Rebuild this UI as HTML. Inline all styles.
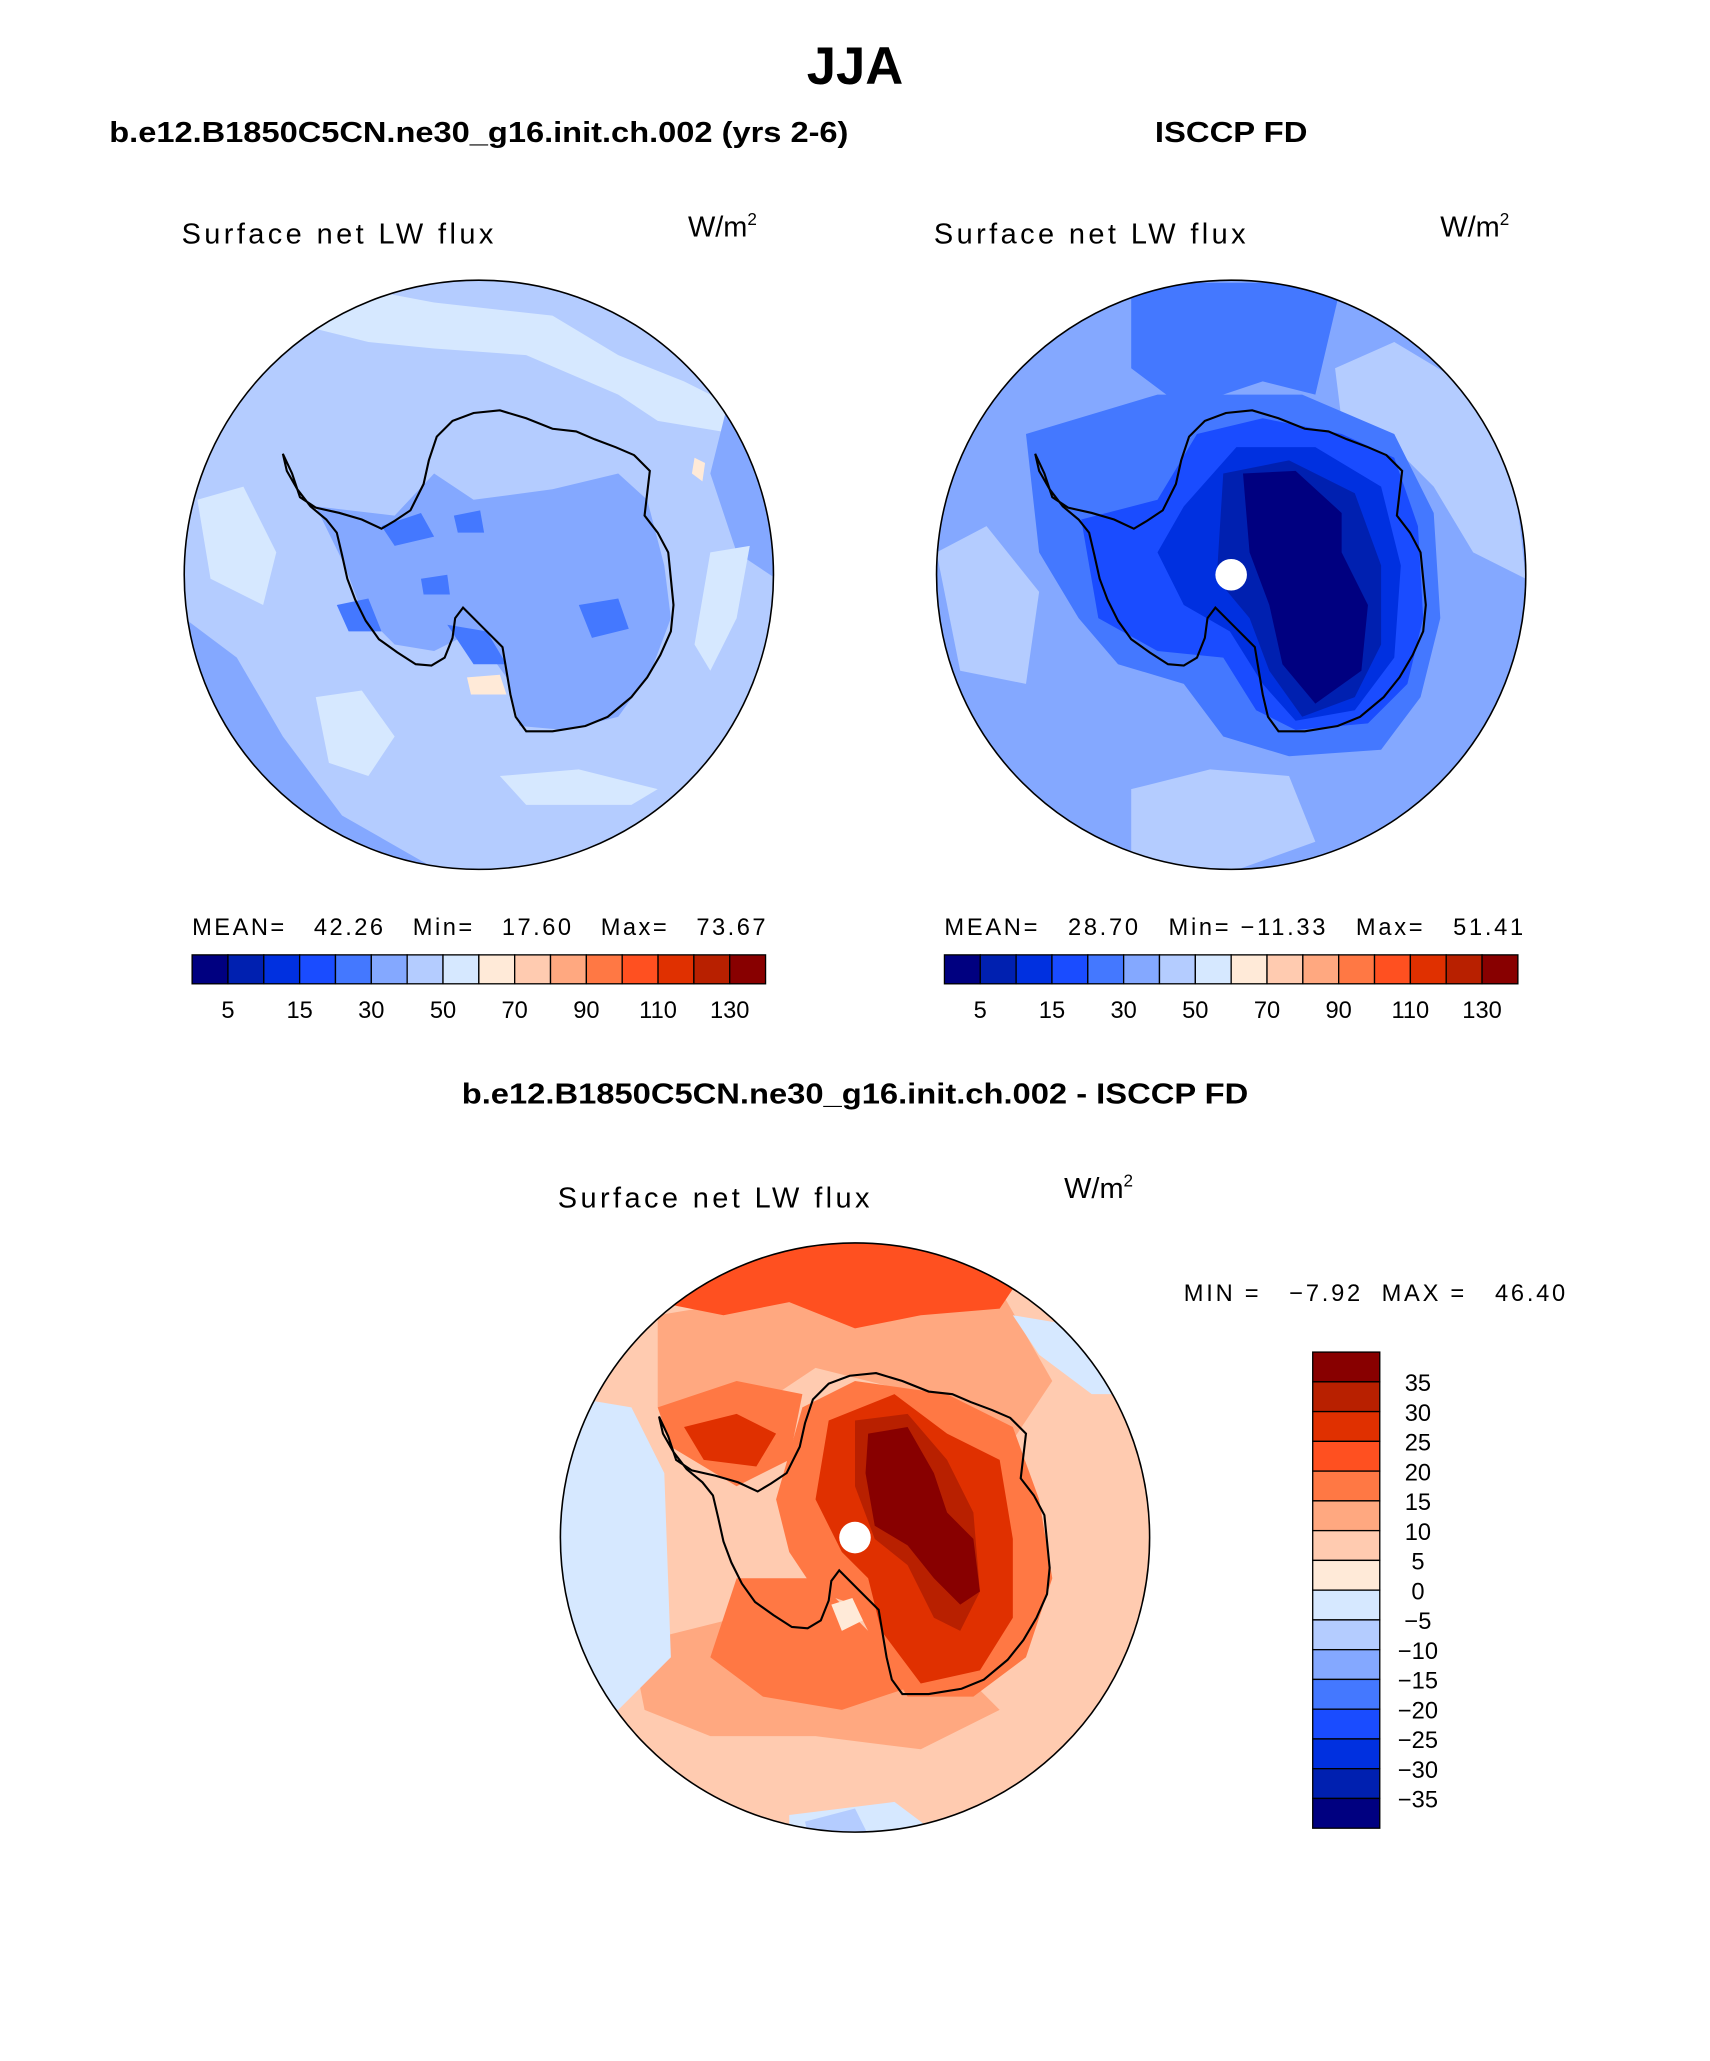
<!DOCTYPE html>
<html><head><meta charset="utf-8"><style>
html,body{margin:0;padding:0;background:#fff}
svg{display:block}
text{font-family:"Liberation Sans",sans-serif}
</style></head><body>
<svg id="fig" width="1710" height="2061" viewBox="0 0 1300 1567" xmlns="http://www.w3.org/2000/svg">
<defs>
<clipPath id="cL"><circle cx="364" cy="437" r="224"/></clipPath>
<clipPath id="cR"><circle cx="936" cy="437" r="224"/></clipPath>
<clipPath id="cB"><circle cx="650" cy="1169" r="224"/></clipPath>
<path id="ant" d="M215,345 L222,360 L228,378 L240,386 L258,390 L275,395 L290,402 L300,396 L312,388 L322,368 L326,350 L332,332 L344,320 L360,314 L380,312 L400,318 L420,326 L438,328 L452,334 L468,340 L482,346 L494,358 L492,375 L490,392 L500,405 L508,420 L510,440 L512,460 L510,480 L502,498 L492,515 L480,530 L462,545 L445,552 L420,556 L400,556 L392,545 L388,528 L385,510 L382,492 L368,478 L352,462 L346,470 L344,485 L338,500 L328,506 L316,505 L302,496 L288,486 L278,472 L270,456 L264,440 L260,422 L256,405 L248,395 L236,385 L226,372 L218,358 Z" fill="none" stroke="#000" stroke-width="1.6"/>
</defs>

<text x="650" y="64" text-anchor="middle" font-size="40" font-weight="bold">JJA</text>
<text x="83" y="108" font-size="22" font-weight="bold" textLength="562" lengthAdjust="spacingAndGlyphs">b.e12.B1850C5CN.ne30_g16.init.ch.002 (yrs 2-6)</text>
<text x="878" y="108" font-size="22" font-weight="bold" textLength="116" lengthAdjust="spacingAndGlyphs">ISCCP FD</text>
<text x="351" y="839" font-size="22" font-weight="bold" textLength="598" lengthAdjust="spacingAndGlyphs">b.e12.B1850C5CN.ne30_g16.init.ch.002 - ISCCP FD</text>

<g font-size="22">
<text x="138" y="185" textLength="237" lengthAdjust="spacing">Surface net LW flux</text>
<text x="523" y="180">W/m<tspan font-size="13" dy="-9">2</tspan></text>
<text x="710" y="185" textLength="237" lengthAdjust="spacing">Surface net LW flux</text>
<text x="1095" y="180">W/m<tspan font-size="13" dy="-9">2</tspan></text>
<text x="424" y="918" textLength="237" lengthAdjust="spacing">Surface net LW flux</text>
<text x="809" y="911">W/m<tspan font-size="13" dy="-9">2</tspan></text>
</g>

<!-- LEFT MAP -->
<g clip-path="url(#cL)">
<rect x="130" y="200" width="470" height="470" fill="#b4ccff"/>
<path d="M250,215 L330,230 L420,240 L470,270 L520,290 L560,310 L560,330 L500,320 L470,300 L400,270 L330,265 L280,260 L240,250 Z" fill="#d6e8ff"/>
<path d="M140,470 L180,500 L215,560 L260,620 L330,660 L140,660 Z" fill="#84a8ff"/>
<path d="M520,610 L590,540 L590,660 L480,660 Z" fill="#84a8ff"/>
<path d="M555,300 L590,330 L590,440 L560,420 L540,360 Z" fill="#84a8ff"/>
<path d="M240,530 L275,525 L300,560 L280,590 L250,580 Z" fill="#d6e8ff"/>
<path d="M540,420 L570,415 L560,470 L540,510 L528,490 Z" fill="#d6e8ff"/>
<path d="M380,590 L440,585 L500,600 L480,612 L400,612 Z" fill="#d6e8ff"/>
<path d="M150,380 L185,370 L210,420 L200,460 L160,440 Z" fill="#d6e8ff"/>
<path d="M240,385 L300,392 L330,360 L360,380 L420,372 L470,360 L492,380 L505,430 L510,470 L495,510 L470,545 L430,555 L395,552 L385,515 L360,480 L330,495 L300,490 L275,465 L262,430 Z" fill="#84a8ff"/>
<path d="M290,400 L320,390 L330,408 L300,415 Z" fill="#4478ff"/>
<path d="M345,392 L365,388 L368,405 L348,405 Z" fill="#4478ff"/>
<path d="M440,460 L470,455 L478,478 L450,485 Z" fill="#4478ff"/>
<path d="M320,440 L340,437 L342,452 L322,452 Z" fill="#4478ff"/>
<path d="M340,475 L370,480 L385,505 L360,505 Z" fill="#4478ff"/>
<path d="M256,460 L280,455 L290,480 L265,480 Z" fill="#4478ff"/>
<path d="M355,515 L380,513 L385,528 L358,528 Z" fill="#ffead8"/>
<path d="M528,348 L536,352 L534,366 L526,360 Z" fill="#ffead8"/>
<use href="#ant"/>
</g>
<circle cx="364" cy="437" r="224" fill="none" stroke="#000" stroke-width="1.2"/>

<!-- RIGHT MAP -->
<g clip-path="url(#cR)">
<rect x="700" y="200" width="470" height="470" fill="#84a8ff"/>
<path d="M1015,280 L1060,260 L1110,290 L1150,350 L1160,440 L1120,420 L1090,370 L1060,340 L1020,320 Z" fill="#b4ccff"/>
<path d="M860,600 L920,585 L980,590 L1000,640 L930,665 L860,660 Z" fill="#b4ccff"/>
<path d="M712,420 L750,400 L790,450 L780,520 L730,510 Z" fill="#b4ccff"/>
<path d="M860,215 L1020,215 L1000,300 L960,290 L900,310 L860,280 Z" fill="#4478ff"/>
<path d="M780,330 L880,300 L990,300 L1060,330 L1090,390 L1095,470 L1080,530 L1050,570 L980,575 L930,560 L900,520 L850,505 L820,470 L790,420 Z" fill="#4478ff"/>
<path d="M822,395 L880,380 L910,330 L960,318 L1020,330 L1060,348 L1078,400 L1082,470 L1070,520 L1040,550 L985,555 L955,540 L930,500 L880,495 L835,470 Z" fill="#1a4cff"/>
<path d="M900,385 L940,340 L1000,340 L1050,370 L1065,430 L1060,500 L1030,540 L985,548 L960,520 L935,480 L900,460 L880,420 Z" fill="#0030e0"/>
<path d="M930,360 L980,350 L1030,375 L1050,430 L1050,490 L1030,530 L990,545 L965,510 L950,470 L925,440 Z" fill="#0020b0"/>
<path d="M945,360 L985,358 L1020,390 L1020,420 L1040,460 L1035,510 L1000,535 L975,505 L965,460 L950,420 Z" fill="#000080"/>
<use href="#ant" transform="translate(572,0)"/>
<circle cx="936" cy="437" r="12" fill="#fff"/>
</g>
<circle cx="936" cy="437" r="224" fill="none" stroke="#000" stroke-width="1.2"/>

<!-- DIFF MAP -->
<g clip-path="url(#cB)">
<rect x="420" y="935" width="470" height="470" fill="#ffcbb0"/>
<path d="M500,1000 L560,990 L620,985 L680,1000 L760,980 L800,1050 L760,1110 L700,1060 L620,1040 L560,1080 L500,1070 Z" fill="#ffa880"/>
<path d="M480,1250 L560,1230 L640,1250 L720,1260 L760,1300 L700,1330 L620,1320 L540,1320 L490,1300 Z" fill="#ffa880"/>
<path d="M470,935 L800,935 L760,995 L700,1000 L650,1010 L600,990 L550,1000 L500,990 Z" fill="#ff5020"/>
<path d="M500,1070 L560,1050 L610,1060 L600,1110 L560,1130 L510,1100 Z" fill="#ff7844"/>
<path d="M520,1085 L560,1075 L590,1090 L575,1115 L535,1110 Z" fill="#e03000"/>
<path d="M560,1200 L620,1200 L660,1240 L700,1280 L640,1300 L580,1290 L540,1260 Z" fill="#ff7844"/>
<path d="M420,1060 L480,1070 L505,1120 L510,1260 L470,1300 L420,1300 Z" fill="#d6e8ff"/>
<path d="M770,1000 L830,1010 L860,1060 L830,1060 L790,1030 Z" fill="#d6e8ff"/>
<path d="M600,1380 L680,1370 L720,1400 L600,1400 Z" fill="#d6e8ff"/>
<path d="M612,1385 L650,1375 L660,1395 L615,1398 Z" fill="#b4ccff"/>
<path d="M610,1070 L650,1050 L720,1060 L770,1085 L790,1140 L800,1200 L780,1260 L740,1290 L690,1290 L665,1250 L650,1220 L620,1210 L600,1180 L590,1140 Z" fill="#ff7844"/>
<path d="M630,1080 L680,1060 L720,1090 L760,1110 L770,1170 L770,1230 L745,1270 L700,1280 L670,1240 L660,1200 L640,1180 L620,1140 Z" fill="#e03000"/>
<path d="M650,1080 L690,1075 L720,1110 L740,1150 L745,1210 L730,1240 L710,1230 L690,1190 L665,1170 L650,1130 Z" fill="#b82000"/>
<path d="M660,1090 L690,1085 L710,1120 L720,1150 L740,1170 L745,1210 L730,1220 L710,1200 L690,1175 L665,1160 L658,1120 Z" fill="#880000"/>
<path d="M632,1220 L648,1215 L656,1232 L640,1240 Z" fill="#ffead8"/>
<use href="#ant" transform="translate(286,732)"/>
<circle cx="650" cy="1169" r="12" fill="#fff"/>
</g>
<circle cx="650" cy="1169" r="224" fill="none" stroke="#000" stroke-width="1.2"/>

<g font-size="18">
<text x="146" y="711" textLength="436" lengthAdjust="spacing" xml:space="preserve">MEAN=   42.26   Min=   17.60   Max=   73.67</text>
<text x="718" y="711" textLength="440" lengthAdjust="spacing" xml:space="preserve">MEAN=   28.70   Min= −11.33   Max=   51.41</text>
<text x="900" y="989" textLength="290" lengthAdjust="spacing" xml:space="preserve">MIN =   −7.92  MAX =   46.40</text>
</g>
<g id="bars"></g>
</svg>
<script>
const colors = ["#000080","#0020b0","#0030e0","#1a4cff","#4478ff","#84a8ff","#b4ccff","#d6e8ff","#ffead8","#ffcbb0","#ffa880","#ff7844","#ff5020","#e03000","#b82000","#880000"];
const absLevels = [5,10,15,20,30,40,50,60,70,80,90,100,110,120,130];
const absTickLabels = ["5","15","30","50","70","90","110","130"];
const diffLevels = [-35,-30,-25,-20,-15,-10,-5,0,5,10,15,20,25,30,35];
const NS = "http://www.w3.org/2000/svg";
const bars = document.getElementById("bars");
function mk(tag, attrs){const e=document.createElementNS(NS,tag);for(const k in attrs)e.setAttribute(k,attrs[k]);bars.appendChild(e);return e;}
function hbar(x0,x1,y0,y1,prefix){
  const n=colors.length, w=(x1-x0)/n;
  colors.forEach((c,i)=>{
    const r=mk("rect",{x:x0+i*w,y:y0,width:w,height:y1-y0,fill:c,stroke:"#000","stroke-width":1});
    
    
  });
  absLevels.forEach((v,i)=>{
    if(i%2!==0) return;
    const t=mk("text",{x:x0+(i+1)*w,y:y1+26,"text-anchor":"middle","font-size":18});
    t.textContent=absTickLabels[i/2];
    
    
  });
}
hbar(146,582,726,748,"left");
hbar(718,1154,726,748,"right");
(function(){
  const x0=998,x1=1049,y0=1028,y1=1390,n=colors.length,h=(y1-y0)/n;
  colors.slice().reverse().forEach((c,i)=>{
    const r=mk("rect",{x:x0,y:y0+i*h,width:x1-x0,height:h,fill:c,stroke:"#000","stroke-width":1});
    
    
  });
  diffLevels.slice().reverse().forEach((v,i)=>{
    const t=mk("text",{x:1078,y:y0+(i+1)*h+7,"text-anchor":"middle","font-size":18});
    t.textContent=(v<0?"\u2212"+(-v):String(v));
    
    
  });
})();
</script>
</body></html>
